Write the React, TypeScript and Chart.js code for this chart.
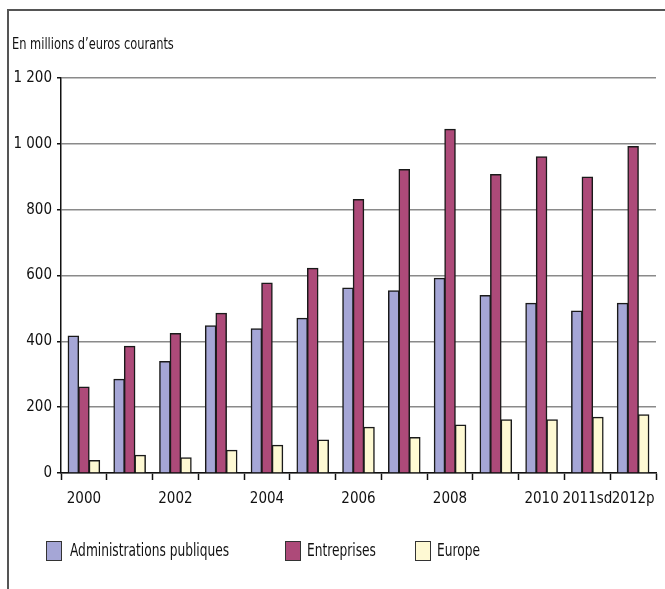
import React, { useEffect, useRef } from "react";
import { Chart, registerables } from "chart.js";

Chart.register(...registerables);

const categories = ["2000", "2001", "2002", "2003", "2004", "2005", "2006", "2007", "2008", "2009", "2010", "2011sd", "2012p"];
const tickLabels = ["2000", "", "2002", "", "2004", "", "2006", "", "2008", "", "2010", "2011sd", "2012p"];
const administrations = [416, 285, 339, 447, 438, 470, 562, 554, 592, 539, 516, 492, 516];
const entreprises = [261, 385, 424, 485, 577, 622, 831, 922, 1044, 907, 961, 899, 992];
const europe = [38, 54, 46, 69, 84, 100, 139, 108, 146, 162, 162, 169, 177];
const seriesNames = ["Administrations publiques", "Entreprises", "Europe"];
const unitLabel = "En millions d\u2019euros courants";

const colors = ["#a5a6d6", "#ad4a79", "#fef9d3"];
const FONT = "'Liberation Sans Narrow', 'DejaVu Sans Condensed', sans-serif";

function fmt(v: number): string {
  const s = String(Math.round(v));
  return s.replace(/\B(?=(\d{3})+(?!\d))/g, " ");
}

export default function App() {
  const ref = useRef<HTMLCanvasElement | null>(null);
  useEffect(() => {
    if (!ref.current) return;
    const chart = new Chart(ref.current, {
      type: "bar",
      data: {
        labels: categories,
        datasets: [administrations, entreprises, europe].map((d, i) => ({
          label: seriesNames[i],
          data: d,
          backgroundColor: colors[i],
          borderColor: "#1a1a1a",
          borderWidth: 1.5,
          barPercentage: 1,
          categoryPercentage: 0.69,
          inflateAmount: 0.5,
        })),
      },
      options: {
        animation: false,
        responsive: false,
        maintainAspectRatio: false,
        layout: { padding: { left: 0, top: 78, right: 9, bottom: 0 } },
        plugins: { legend: { display: false }, tooltip: { enabled: false } },
        scales: {
          x: {
            offset: true,
            grid: {
              offset: true,
              drawOnChartArea: false,
              drawTicks: true,
              tickLength: 7,
              tickColor: "#111",
              tickWidth: 1.5,
            },
            border: { display: true, color: "#111", width: 1.5 },
            ticks: {
              autoSkip: false,
              maxRotation: 0,
              minRotation: 0,
              padding: 10,
              color: "#111",
              font: { family: FONT, size: 15 },
              callback: (_v: any, i: number) => tickLabels[i],
            },
            afterFit: (s: any) => { s.height = 116; },
          },
          y: {
            min: 0,
            max: 1200,
            grid: {
              color: "#8a8a8a",
              lineWidth: 1.5,
              drawTicks: true,
              tickLength: 4,
              tickColor: "#111",
            },
            border: { display: true, color: "#111", width: 1.5 },
            ticks: {
              stepSize: 200,
              padding: 5,
              color: "#111",
              font: { family: FONT, size: 15 },
              callback: (v: any) => fmt(Number(v)),
            },
            afterFit: (s: any) => { s.width = 61; },
          },
        },
      },
    });
    return () => chart.destroy();
  }, []);

  const textStyle = (left: number, top: number, size: number, scale: number): React.CSSProperties => ({
    position: "absolute",
    left,
    top,
    fontSize: size,
    color: "#111",
    whiteSpace: "nowrap",
    lineHeight: "22px",
    transform: `scaleX(${scale})`,
    transformOrigin: "left center",
  });

  return (
    <div style={{ position: "absolute", left: 0, top: 0, width: 665, height: 589, background: "#fff", overflow: "hidden", fontFamily: FONT }}>
      <canvas ref={ref} width={665} height={589} style={{ position: "absolute", left: 0, top: 0, width: 665, height: 589 }} />
      <div style={{ position: "absolute", left: 7, top: 9, width: 2, height: 580, background: "#555" }} />
      <div style={{ position: "absolute", left: 7, top: 9, width: 658, height: 2, background: "#555" }} />
      <div style={textStyle(12, 33, 16.5, 0.77)}>{unitLabel}</div>
      {[{ x: 46, tx: 70 }, { x: 285, tx: 307 }, { x: 415, tx: 437 }].map((p, i) => (
        <React.Fragment key={i}>
          <div style={{ position: "absolute", left: p.x, top: 541, width: 14, height: 18, background: colors[i], border: "1.5px solid #333" }} />
          <div style={textStyle(p.tx, 539, 18, 0.755)}>{seriesNames[i]}</div>
        </React.Fragment>
      ))}
    </div>
  );
}
